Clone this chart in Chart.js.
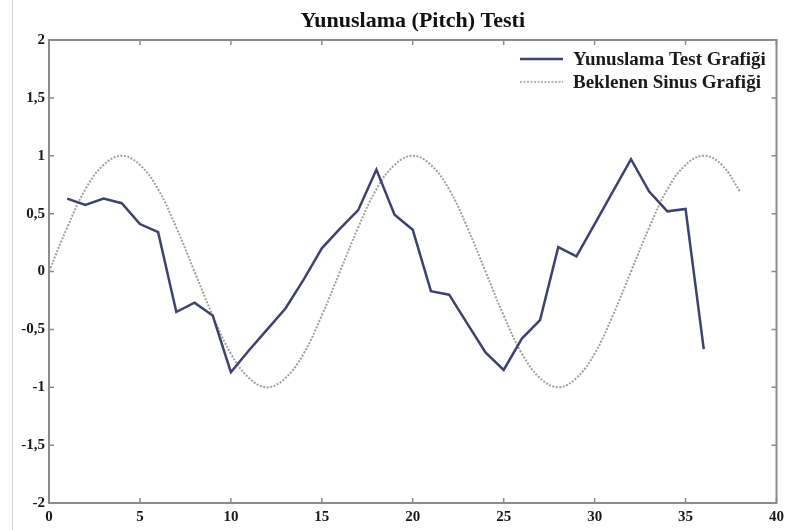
<!DOCTYPE html>
<html>
<head>
<meta charset="utf-8">
<script src="https://cdn.jsdelivr.net/npm/chart.js@4.4.1/dist/chart.umd.min.js"></script>
<style>
  html, body { margin: 0; padding: 0; background: #fff; }
  .wrap { position: relative; width: 789px; height: 530px; }
  .edge { position: absolute; left: 12px; top: 0; width: 1px; height: 530px; background: #d4d4d4; }
</style>
</head>
<body>
<div class="wrap">
  <div class="edge"></div>
  <canvas id="pitchChart" width="789" height="530"></canvas>
</div>
<script>
// values
const testX = [1, 2, 3, 4, 5, 6, 7, 8, 9, 10, 11, 12, 13, 14, 15, 16, 17, 18,
  19, 20, 21, 22, 23, 24, 25, 26, 27, 28, 29, 30, 31, 32, 33, 34, 35, 36];
const testValues = [0.63, 0.575, 0.63, 0.59, 0.41, 0.34, -0.35, -0.27, -0.38, -0.87,
  -0.68, -0.50, -0.32, -0.07, 0.20, 0.37, 0.53, 0.88, 0.49, 0.36, -0.17, -0.20,
  -0.45, -0.70, -0.85, -0.58, -0.42, 0.21, 0.13, 0.41, 0.69, 0.97, 0.69, 0.52, 0.54, -0.67];

const sineX = [0, 1, 2, 3, 4, 5, 6, 7, 8, 9, 10, 11, 12, 13, 14, 15, 16, 17, 18, 19,
  20, 21, 22, 23, 24, 25, 26, 27, 28, 29, 30, 31, 32, 33, 34, 35, 36, 37, 38];
const sineValues = [0, 0.38, 0.71, 0.92, 1, 0.92, 0.71, 0.38, 0, -0.38, -0.71, -0.92, -1,
  -0.92, -0.71, -0.38, 0, 0.38, 0.71, 0.92, 1, 0.92, 0.71, 0.38, 0, -0.38, -0.71, -0.92,
  -1, -0.92, -0.71, -0.38, 0, 0.38, 0.71, 0.92, 1, 0.92, 0.69];

const seriesLabels = ['Yunuslama Test Grafiği', 'Beklenen Sinus Grafiği'];
const xTicks = [0, 5, 10, 15, 20, 25, 30, 35, 40];
const yTicks = [-2, -1.5, -1, -0.5, 0, 0.5, 1, 1.5, 2];

const serif = '"Liberation Serif", "Times New Roman", serif';
const frameColor = '#8c8c8c';

// frame, inward ticks on all four sides and the legend inside the plot
const framePlugin = {
  id: 'frame',
  afterDraw(chart) {
    const ctx = chart.ctx;
    const a = chart.chartArea;
    const xs = chart.scales.x;
    const ys = chart.scales.y;
    ctx.save();
    ctx.strokeStyle = frameColor;
    ctx.lineWidth = 1.5;
    ctx.beginPath();
    xTicks.forEach(v => {
      const px = xs.getPixelForValue(v);
      ctx.moveTo(px, a.bottom); ctx.lineTo(px, a.bottom - 5);
      ctx.moveTo(px, a.top); ctx.lineTo(px, a.top + 5);
    });
    yTicks.forEach(v => {
      const py = ys.getPixelForValue(v);
      ctx.moveTo(a.left, py); ctx.lineTo(a.left + 5, py);
      ctx.moveTo(a.right, py); ctx.lineTo(a.right - 5, py);
    });
    ctx.stroke();
    ctx.lineWidth = 2;
    ctx.strokeRect(a.left, a.top, a.right - a.left, a.bottom - a.top);

    // legend
    ctx.font = 'bold 19px ' + serif;
    ctx.textAlign = 'left';
    ctx.textBaseline = 'middle';
    chart.data.datasets.forEach((ds, i) => {
      const rowY = 59 + i * 23;
      ctx.strokeStyle = ds.borderColor;
      ctx.lineWidth = i === 0 ? 2.5 : 1.5;
      ctx.setLineDash(ds.borderDash || []);
      ctx.beginPath();
      ctx.moveTo(520, rowY);
      ctx.lineTo(563, rowY);
      ctx.stroke();
      ctx.setLineDash([]);
      ctx.fillStyle = '#1a1a1a';
      ctx.fillText(ds.label, 573, rowY + 1);
    });
    ctx.restore();
  }
};

new Chart(document.getElementById('pitchChart'), {
  type: 'line',
  data: {
    datasets: [{
      label: seriesLabels[0],
      data: testX.map((x, i) => ({ x: x, y: testValues[i] })),
      borderColor: '#3d4270',
      borderWidth: 2.5,
      pointRadius: 0,
      tension: 0
    }, {
      label: seriesLabels[1],
      data: sineX.map((x, i) => ({ x: x, y: sineValues[i] })),
      borderColor: '#a0a0a0',
      borderWidth: 2,
      borderDash: [2, 1.5],
      pointRadius: 0,
      tension: 0.4
    }]
  },
  options: {
    responsive: false,
    animation: false,
    layout: { padding: { left: 0, right: 4, top: 0, bottom: 0 } },
    plugins: {
      legend: { display: false },
      tooltip: { enabled: false },
      title: {
        display: true,
        fullSize: false,
        text: 'Yunuslama (Pitch) Testi',
        color: '#111',
        font: { family: serif, size: 22, weight: 'bold' },
        padding: { top: 8, bottom: 5.6 }
      }
    },
    scales: {
      x: {
        type: 'linear',
        min: 0,
        max: 40,
        afterBuildTicks: s => { s.ticks = xTicks.map(v => ({ value: v })); },
        afterFit: s => { s.height = 27; },
        grid: { display: false, drawTicks: false },
        border: { display: false },
        ticks: {
          color: '#1a1a1a',
          padding: 5,
          font: { family: serif, size: 15, weight: 'bold' }
        }
      },
      y: {
        min: -2,
        max: 2,
        afterBuildTicks: s => { s.ticks = yTicks.map(v => ({ value: v })); },
        afterFit: s => { s.width = 49; },
        grid: { display: false, drawTicks: false },
        border: { display: false },
        ticks: {
          color: '#1a1a1a',
          padding: 4,
          font: { family: serif, size: 15, weight: 'bold' },
          callback: v => String(v).replace('.', ',')
        }
      }
    }
  },
  plugins: [framePlugin]
});
</script>
</body>
</html>
